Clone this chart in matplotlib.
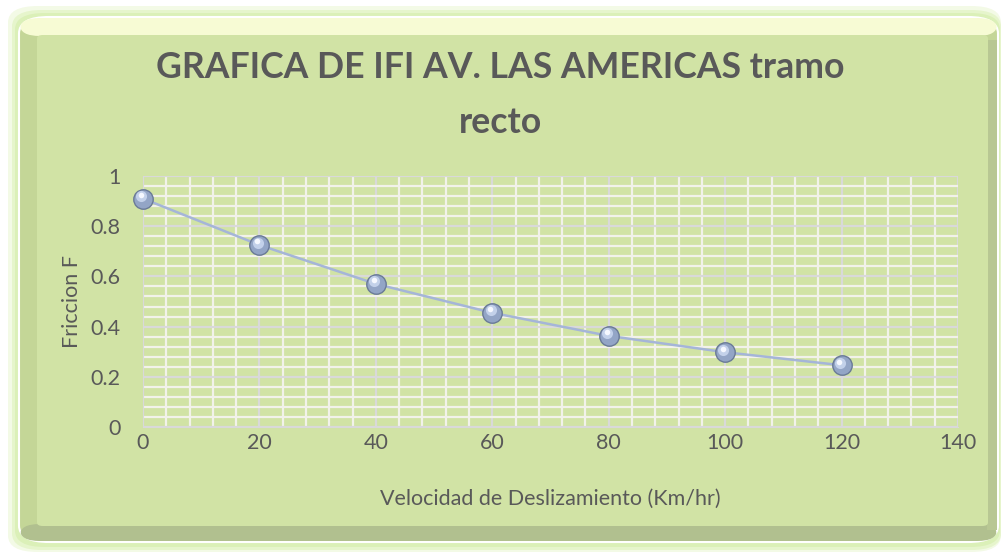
import matplotlib
matplotlib.use("Agg")
import matplotlib.pyplot as plt
from matplotlib.patches import FancyBboxPatch
from matplotlib.ticker import MultipleLocator
from matplotlib.transforms import offset_copy

# data
velocidad = [0, 20, 40, 60, 80, 100, 120]
friccion = [0.91, 0.725, 0.57, 0.455, 0.363, 0.298, 0.246]

xticks = [0, 20, 40, 60, 80, 100, 120, 140]
yticks = [0, 0.2, 0.4, 0.6, 0.8, 1]
xticklabels = ["0", "20", "40", "60", "80", "100", "120", "140"]
yticklabels = ["0", "0.2", "0.4", "0.6", "0.8", "1"]

title = "GRAFICA DE IFI AV. LAS AMERICAS tramo\nrecto"
xlabel = "Velocidad de Deslizamiento (Km/hr)"
ylabel = "Friccion F"

bg = "#d1e3a5"
txt = "#595959"

plt.rcParams["font.family"] = ["Lato", "DejaVu Sans"]

fig = plt.figure(figsize=(10.01, 5.52), dpi=100)
fig.patch.set_facecolor("white")


def box(x0, y0, x1, y1, color, r=0.03, z=-5, **kw):
    # rectangle given in pixel corners (top-left origin)
    W, H = 1001.0, 552.0
    p = FancyBboxPatch((x0 / W, 1 - y1 / H), (x1 - x0) / W, (y1 - y0) / H,
                       boxstyle="round,pad=0,rounding_size=%f" % r,
                       transform=fig.transFigure, facecolor=color,
                       zorder=z, **kw)
    fig.patches.append(p)
    return p


# soft green glow around the chart box
box(8, 6, 1001, 552, "#f3fae6", z=-10, edgecolor="none")
box(12, 10, 1001, 550, "#e6f5cc", z=-9, edgecolor="none")
box(15, 13, 1000, 547, "#dbf0b8", z=-8, edgecolor="none")
# bevel frame
box(19, 17, 998, 542, "#c4d697", z=-7, edgecolor="white", linewidth=1.5)
box(20, 18, 997, 36, "#f7fbd4", r=0.02, z=-6, edgecolor="none")
box(20, 524, 997, 541, "#b1c08f", r=0.02, z=-6, edgecolor="none")
box(987, 40, 997, 530, "#b8c793", r=0.0, z=-6, edgecolor="none")
# inner panel
box(37, 35, 988, 526, bg, r=0.006, z=-4, edgecolor="none")

ax = fig.add_axes([143 / 1001, 1 - 427 / 552, 815 / 1001, 251 / 552])
ax.set_zorder(5)
ax.patch.set_alpha(0)

ax.set_xlim(0, 140)
ax.set_ylim(0, 1)
ax.set_xticks(xticks)
ax.set_xticklabels(xticklabels)
ax.set_yticks(yticks)
ax.set_yticklabels(yticklabels)
ax.xaxis.set_minor_locator(MultipleLocator(4))
ax.yaxis.set_minor_locator(MultipleLocator(0.04))
ax.grid(which="minor", color="#f2f2ea", linewidth=1.6)
ax.grid(which="major", color="#d9d9d9", linewidth=1.6)
ax.set_axisbelow(True)
for s in ax.spines.values():
    s.set_visible(False)
ax.spines["left"].set_visible(True)
ax.spines["left"].set_color("#d9d9d9")
ax.spines["bottom"].set_visible(True)
ax.spines["bottom"].set_color("#d9d9d9")
ax.tick_params(which="both", length=0, labelsize=15.5, colors=txt)
ax.tick_params(axis="x", pad=4)
ax.tick_params(axis="y", pad=16)

ax.plot(velocidad, friccion, color="#a5b5d8", linewidth=1.8, zorder=3)
ax.plot(velocidad, friccion, linestyle="none", marker="o", markersize=14,
        markerfacecolor="#93a5c6", markeredgecolor="#6a7a97", markeredgewidth=1.0,
        zorder=4, clip_on=False)
hl = offset_copy(ax.transData, fig=fig, x=-1.2, y=1.8, units="points")
ax.plot(velocidad, friccion, linestyle="none", marker="o", markersize=8,
        markerfacecolor="#c3d1ea", markeredgecolor="none", zorder=5, clip_on=False,
        transform=hl)
hl2 = offset_copy(ax.transData, fig=fig, x=-1.5, y=2.6, units="points")
ax.plot(velocidad, friccion, linestyle="none", marker="o", markersize=4,
        markerfacecolor="#f5f8ff", markeredgecolor="none", zorder=6, clip_on=False,
        transform=hl2)

ax.set_xlabel(xlabel, fontsize=15.5, color=txt, labelpad=26)
ax.set_ylabel(ylabel, fontsize=15.5, color=txt, labelpad=6)

fig.text(0.5, 1 - 95 / 552, title, ha="center", va="center", fontsize=25.7,
         fontweight="bold", color=txt, linespacing=1.85)

fig.savefig("out.png", dpi=100, facecolor="white")
